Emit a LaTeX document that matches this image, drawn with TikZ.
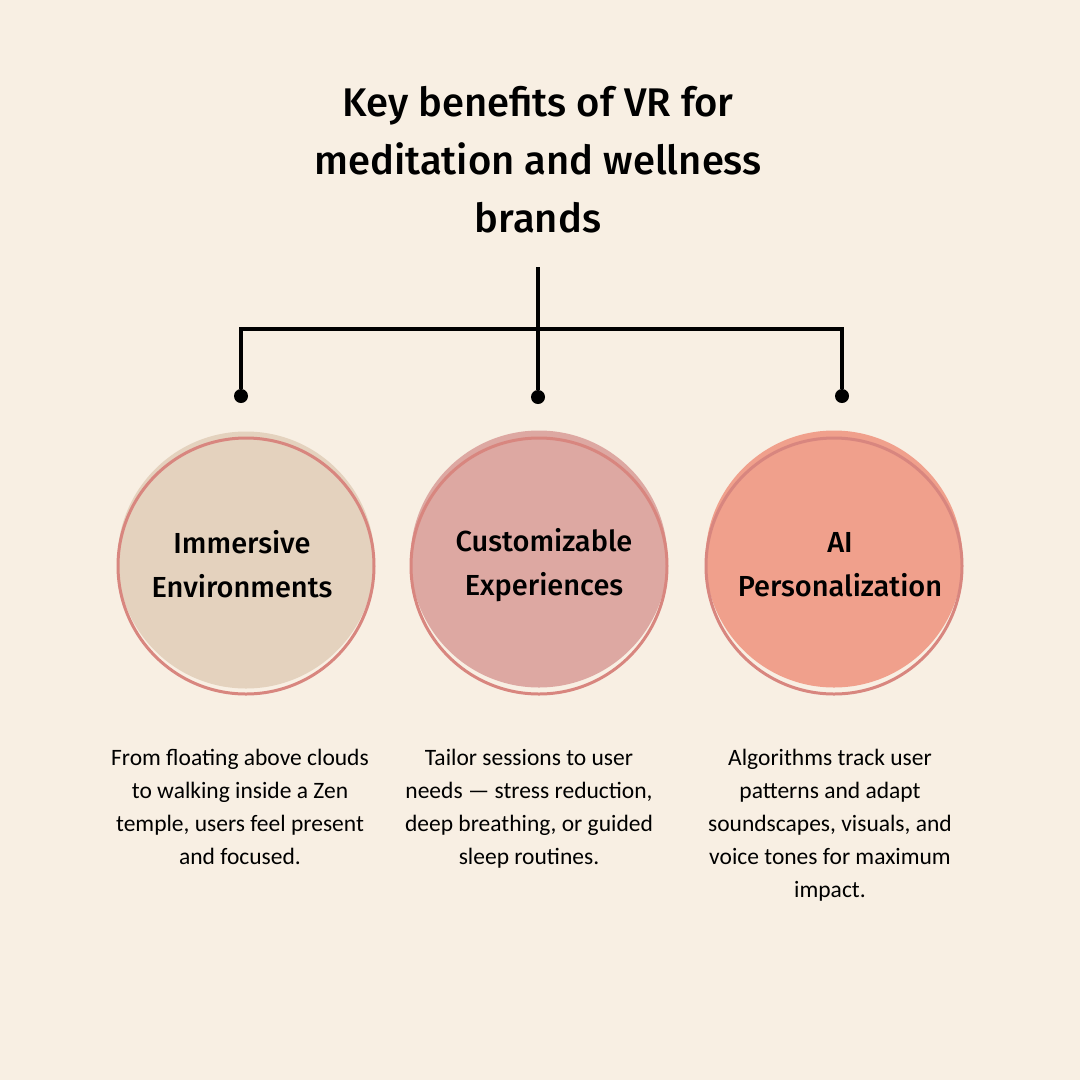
\documentclass[tikz,border=0pt]{standalone}
\usepackage{fontspec}
\setmainfont{Carlito}
\newfontfamily\headfont{Fira Sans Medium}
\usetikzlibrary{positioning}
\definecolor{paper}{HTML}{F8EFE3}
\definecolor{ring}{HTML}{D8867F}
\definecolor{sand}{HTML}{E4D2BE}
\definecolor{rose}{HTML}{DDA8A2}
\definecolor{salmon}{HTML}{F0A08C}
\tikzset{
	disc/.style={circle, minimum size=257pt, inner sep=0pt, align=center, font=\headfont\fontsize{29}{44}\selectfont},
	blurb/.style={align=center, font=\fontsize{23.5}{33}\selectfont},
	pin/.style={circle, fill=black, inner sep=0pt, minimum size=14pt}
}
\begin{document}
\begin{tikzpicture}[x=1pt, y=-1pt]
		%%%%% START %%%%%
		
		\useasboundingbox (0, 0) rectangle (1080, 1080);
		\fill[paper] (0, 0) rectangle (1080, 1080);
		
		\node[align=center, font=\headfont\fontsize{40}{58}\selectfont] (title) at (538, 160) {Key benefits of VR for\\meditation and wellness\\brands};
		
		\coordinate (stem) at (538, 267);
		\coordinate (bar) at (538, 329);
		\node[pin] (pinA) at (241, 396) {};
		\node[pin] (pinB) at (538, 397) {};
		\node[pin] (pinC) at (842, 396) {};
		
		\draw[line width=3.5pt] (stem) -- (pinB);
		\draw[line width=3.5pt] (pinA) -- (pinA |- bar) -- (pinC |- bar) -- (pinC);
		
		\node[disc, fill=sand] (immersive) at (246, 560) {};
		\draw[ring, line width=3pt] (246, 566) circle (128);
		\node[disc] at (242, 564) {Immersive\\Environments};
		
		\node[disc, fill=rose] (custom) at (539, 559) {};
		\draw[ring, line width=3pt] (539, 566) circle (128);
		\node[disc] at (544, 565) {Customizable\\Experiences};
		
		\node[disc, fill=salmon] (ai) at (834, 559) {};
		\draw[ring, line width=3pt] (834, 566) circle (128);
		\node[disc] at (840, 565) {AI\\Personalization};
		
		\node[blurb, anchor=north] (blurbA) at (240, 746) {From floating above clouds\\to walking inside a Zen\\temple, users feel present\\and focused.};
		\node[blurb, anchor=north] (blurbB) at (529, 746) {Tailor sessions to user\\needs — stress reduction,\\deep breathing, or guided\\sleep routines.};
		\node[blurb, anchor=north] (blurbC) at (830, 746) {Algorithms track user\\patterns and adapt\\soundscapes, visuals, and\\voice tones for maximum\\impact.};
		
		%%%%% END %%%%%
	\end{tikzpicture}
\end{document}
